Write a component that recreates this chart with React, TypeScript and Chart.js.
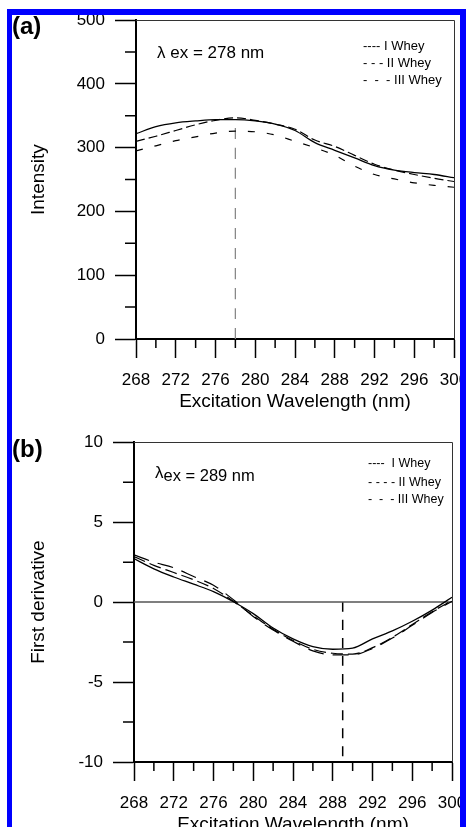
import React, { useEffect, useRef } from "react";
import { Chart, registerables } from "chart.js";

Chart.register(...registerables);

// ---------------- DATA ----------------
const wavelengths = [268, 270, 272, 274, 276, 278, 280, 282, 284, 286, 288, 290, 292, 294, 296, 298, 300];

// Panel (a): intensity
const intensityI = [322, 333, 339, 342, 344, 344, 342, 337, 327, 308, 296, 284, 272, 265, 261, 258, 253];
const intensityII = [310, 318, 327, 336, 343, 347, 343, 337, 329, 312, 302, 288, 274, 265, 258, 252, 247];
const intensityIII = [295, 303, 311, 317, 323, 326, 325, 320, 310, 300, 288, 271, 258, 251, 245, 241, 238];

// Panel (b): first derivative
const derivI = [2.72, 2.08, 1.57, 1.12, 0.65, 0.02, -0.72, -1.62, -2.3, -2.78, -2.95, -2.88, -2.3, -1.8, -1.2, -0.5, 0.3];
const derivII = [2.85, 2.3, 1.85, 1.4, 0.85, 0.05, -0.85, -1.7, -2.4, -2.95, -3.2, -3.25, -2.85, -2.2, -1.4, -0.6, 0.1];
const derivIII = [2.95, 2.5, 2.15, 1.6, 1.05, 0.15, -0.9, -1.75, -2.45, -3.05, -3.3, -3.3, -2.9, -2.25, -1.45, -0.65, 0.05];

// Axis ranges / ticks
const xRange = [268, 300];
const xMajorStep = 4;
const xMinorStep = 2;
const intensityRange = [0, 500];
const intensityMajorStep = 100;
const intensityMinorStep = 50;
const derivRange = [-10, 10];
const derivMajorStep = 5;
const derivMinorStep = 2.5;

// Marker lines
const peakA = 278;
const peakATop = 335;
const peakB = 289;

// Text
const xTitle = "Excitation Wavelength (nm)";
const yTitleA = "Intensity";
const yTitleB = "First derivative";
const legendRowsTextA = ["---- I Whey", "- - - II Whey", "-  -  - III Whey"];
const legendRowsTextB = ["----  I Whey", "- - - - II Whey", "-  -  - III Whey"];

const FONT = "'Liberation Sans', Arial, Helvetica, sans-serif";

const pts = (ys: number[]) => wavelengths.map((x, i) => ({ x, y: ys[i] }));

const frameMinorPlugin = {
  id: "frameMinor",
  afterDraw(chart: any, _args: any, opts: any) {
    const { ctx, chartArea: ca, scales } = chart;
    const xs = scales.x;
    const ys = scales.y;
    ctx.save();
    ctx.strokeStyle = "#000";
    ctx.lineWidth = 1.5;
    ctx.beginPath();
    const nx = Math.round((xs.max - xs.min) / opts.xMinor);
    for (let i = 0; i <= nx; i++) {
      const v = xs.min + i * opts.xMinor;
      const r = Math.abs(((v - xs.min) / opts.xMajor) - Math.round((v - xs.min) / opts.xMajor));
      if (r < 1e-6) continue;
      const px = xs.getPixelForValue(v);
      ctx.moveTo(px, ca.bottom);
      ctx.lineTo(px, ca.bottom + opts.xLen);
    }
    const ny = Math.round((ys.max - ys.min) / opts.yMinor);
    for (let i = 0; i <= ny; i++) {
      const v = ys.min + i * opts.yMinor;
      const r = Math.abs(((v - ys.min) / opts.yMajor) - Math.round((v - ys.min) / opts.yMajor));
      if (r < 1e-6) continue;
      const py = ys.getPixelForValue(v);
      ctx.moveTo(ca.left - opts.yLen, py);
      ctx.lineTo(ca.left, py);
    }
    ctx.stroke();
    ctx.strokeStyle = "#333";
    ctx.lineWidth = 1;
    ctx.beginPath();
    ctx.moveTo(ca.left, Math.round(ca.top) + 0.5);
    ctx.lineTo(Math.round(ca.right) + 0.5, Math.round(ca.top) + 0.5);
    ctx.lineTo(Math.round(ca.right) + 0.5, ca.bottom);
    ctx.stroke();
    ctx.restore();
  },
};

function makeConfig(o: any) {
  return {
    type: "line",
    data: { datasets: o.datasets },
    options: {
      animation: false,
      responsive: false,
      devicePixelRatio: 1,
      layout: { padding: { left: 0, top: o.padTop, right: o.padRight, bottom: 0 } },
      elements: { point: { radius: 0 }, line: { cubicInterpolationMode: "monotone" } },
      plugins: {
        legend: { display: false },
        tooltip: { enabled: false },
        frameMinor: o.minor,
      },
      scales: {
        x: {
          type: "linear",
          min: xRange[0],
          max: xRange[1],
          afterFit: (s: any) => {
            s.height = o.xAxisHeight;
          },
          ticks: {
            stepSize: xMajorStep,
            color: "#000",
            font: { family: FONT, size: 17 },
            padding: 12,
            maxRotation: 0,
            autoSkip: false,
          },
          grid: {
            drawOnChartArea: false,
            drawTicks: true,
            tickLength: 19,
            tickWidth: 1.5,
            tickColor: "#000",
          },
          border: { display: true, color: "#000", width: 2 },
          title: {
            display: true,
            text: xTitle,
            color: "#000",
            font: { family: FONT, size: 19 },
            padding: { top: 0, bottom: o.xTitlePad },
          },
        },
        y: {
          type: "linear",
          min: o.yRange[0],
          max: o.yRange[1],
          afterFit: (s: any) => {
            s.width = o.yAxisWidth;
          },
          ticks: {
            stepSize: o.yStep,
            color: "#000",
            font: { family: FONT, size: 17 },
            padding: 10,
          },
          grid: {
            drawOnChartArea: false,
            drawTicks: true,
            tickLength: 21,
            tickWidth: 1.5,
            tickColor: "#000",
          },
          border: { display: true, color: "#000", width: 2 },
          title: {
            display: true,
            text: o.yTitle,
            color: "#000",
            font: { family: FONT, size: 19 },
            padding: { top: 27, bottom: 0 },
          },
        },
      },
    },
    plugins: [frameMinorPlugin],
  };
}

const line = (data: any, dash: number[], width: number, color = "#000") => ({
  data,
  borderColor: color,
  borderWidth: width,
  borderDash: dash,
  fill: false,
  pointRadius: 0,
});

export default function App() {
  const refA = useRef<HTMLCanvasElement>(null);
  const refB = useRef<HTMLCanvasElement>(null);

  useEffect(() => {
    const chartA = new Chart(
      refA.current as HTMLCanvasElement,
      makeConfig({
        datasets: [
          line(pts(intensityI), [], 1.3),
          line(pts(intensityII), [9, 4], 1.2),
          line(pts(intensityIII), [7, 12], 1.2),
          line(
            [
              { x: peakA, y: intensityRange[0] },
              { x: peakA, y: peakATop },
            ],
            [11, 9],
            1.3,
            "#888"
          ),
        ],
        padTop: 20,
        padRight: 46,
        xAxisHeight: 81,
        yAxisWidth: 136,
        xTitlePad: 7,
        yRange: intensityRange,
        yStep: intensityMajorStep,
        yTitle: yTitleA,
        minor: { xMinor: xMinorStep, xMajor: xMajorStep, xLen: 9, yMinor: intensityMinorStep, yMajor: intensityMajorStep, yLen: 11 },
      }) as any
    );
    const chartB = new Chart(
      refB.current as HTMLCanvasElement,
      makeConfig({
        datasets: [
          line(pts(derivI), [], 1.3),
          line(pts(derivII), [12, 5], 1.2),
          line(pts(derivIII), [16, 9], 1.2),
          line(
            [
              { x: xRange[0], y: 0 },
              { x: xRange[1], y: 0 },
            ],
            [],
            1.5,
            "#555"
          ),
          line(
            [
              { x: peakB, y: 0 },
              { x: peakB, y: derivRange[0] },
            ],
            [10, 8],
            1.5,
            "#000"
          ),
        ],
        padTop: 20,
        padRight: 48,
        xAxisHeight: 80,
        yAxisWidth: 134,
        xTitlePad: 6,
        yRange: derivRange,
        yStep: derivMajorStep,
        yTitle: yTitleB,
        minor: { xMinor: xMinorStep, xMajor: xMajorStep, xLen: 9, yMinor: derivMinorStep, yMajor: derivMajorStep, yLen: 11 },
      }) as any
    );
    return () => {
      chartA.destroy();
      chartB.destroy();
    };
  }, []);

  const abs = (extra: any) => ({ position: "absolute" as const, fontFamily: FONT, color: "#000", whiteSpace: "pre" as const, lineHeight: 1, ...extra });

  const legendRowsA = [45, 62, 79];
  const legendRowsB = [463, 482, 499];

  return (
    <div style={{ position: "fixed", left: 0, top: 0, width: 466, height: 827, overflow: "hidden", background: "#fff" }}>
      <canvas ref={refA} width={500} height={420} style={{ position: "absolute", left: 0, top: 0 }} />
      <canvas ref={refB} width={500} height={420} style={{ position: "absolute", left: 0, top: 422 }} />

      <div style={abs({ left: 12, top: 14, fontSize: 24, fontWeight: "bold" })}>(a)</div>
      <div style={abs({ left: 12, top: 437, fontSize: 24, fontWeight: "bold" })}>(b)</div>

      <div style={abs({ left: 157, top: 44, fontSize: 17 })}>{"λ ex = 278 nm"}</div>
      <div style={abs({ left: 155, top: 467, fontSize: 16.5 })}>
        <span style={{ position: "relative", top: -3, fontSize: 17 }}>λ</span>
        {"ex = 289 nm"}
      </div>

      {legendRowsTextA.map((t, i) => (
        <div key={"a" + i} style={abs({ left: 363, top: legendRowsA[i] - 6.5, fontSize: 13 })}>{t}</div>
      ))}
      {legendRowsTextB.map((t, i) => (
        <div key={"b" + i} style={abs({ left: 368, top: legendRowsB[i] - 6.5, fontSize: 12.5 })}>{t}</div>
      ))}

      <div
        style={{
          position: "absolute",
          left: 7,
          top: 9,
          width: 459,
          height: 900,
          boxSizing: "border-box",
          borderLeft: "5px solid #0000ff",
          borderTop: "6px solid #0000ff",
          borderRight: "6px solid #0000ff",
          pointerEvents: "none",
        }}
      />
    </div>
  );
}
